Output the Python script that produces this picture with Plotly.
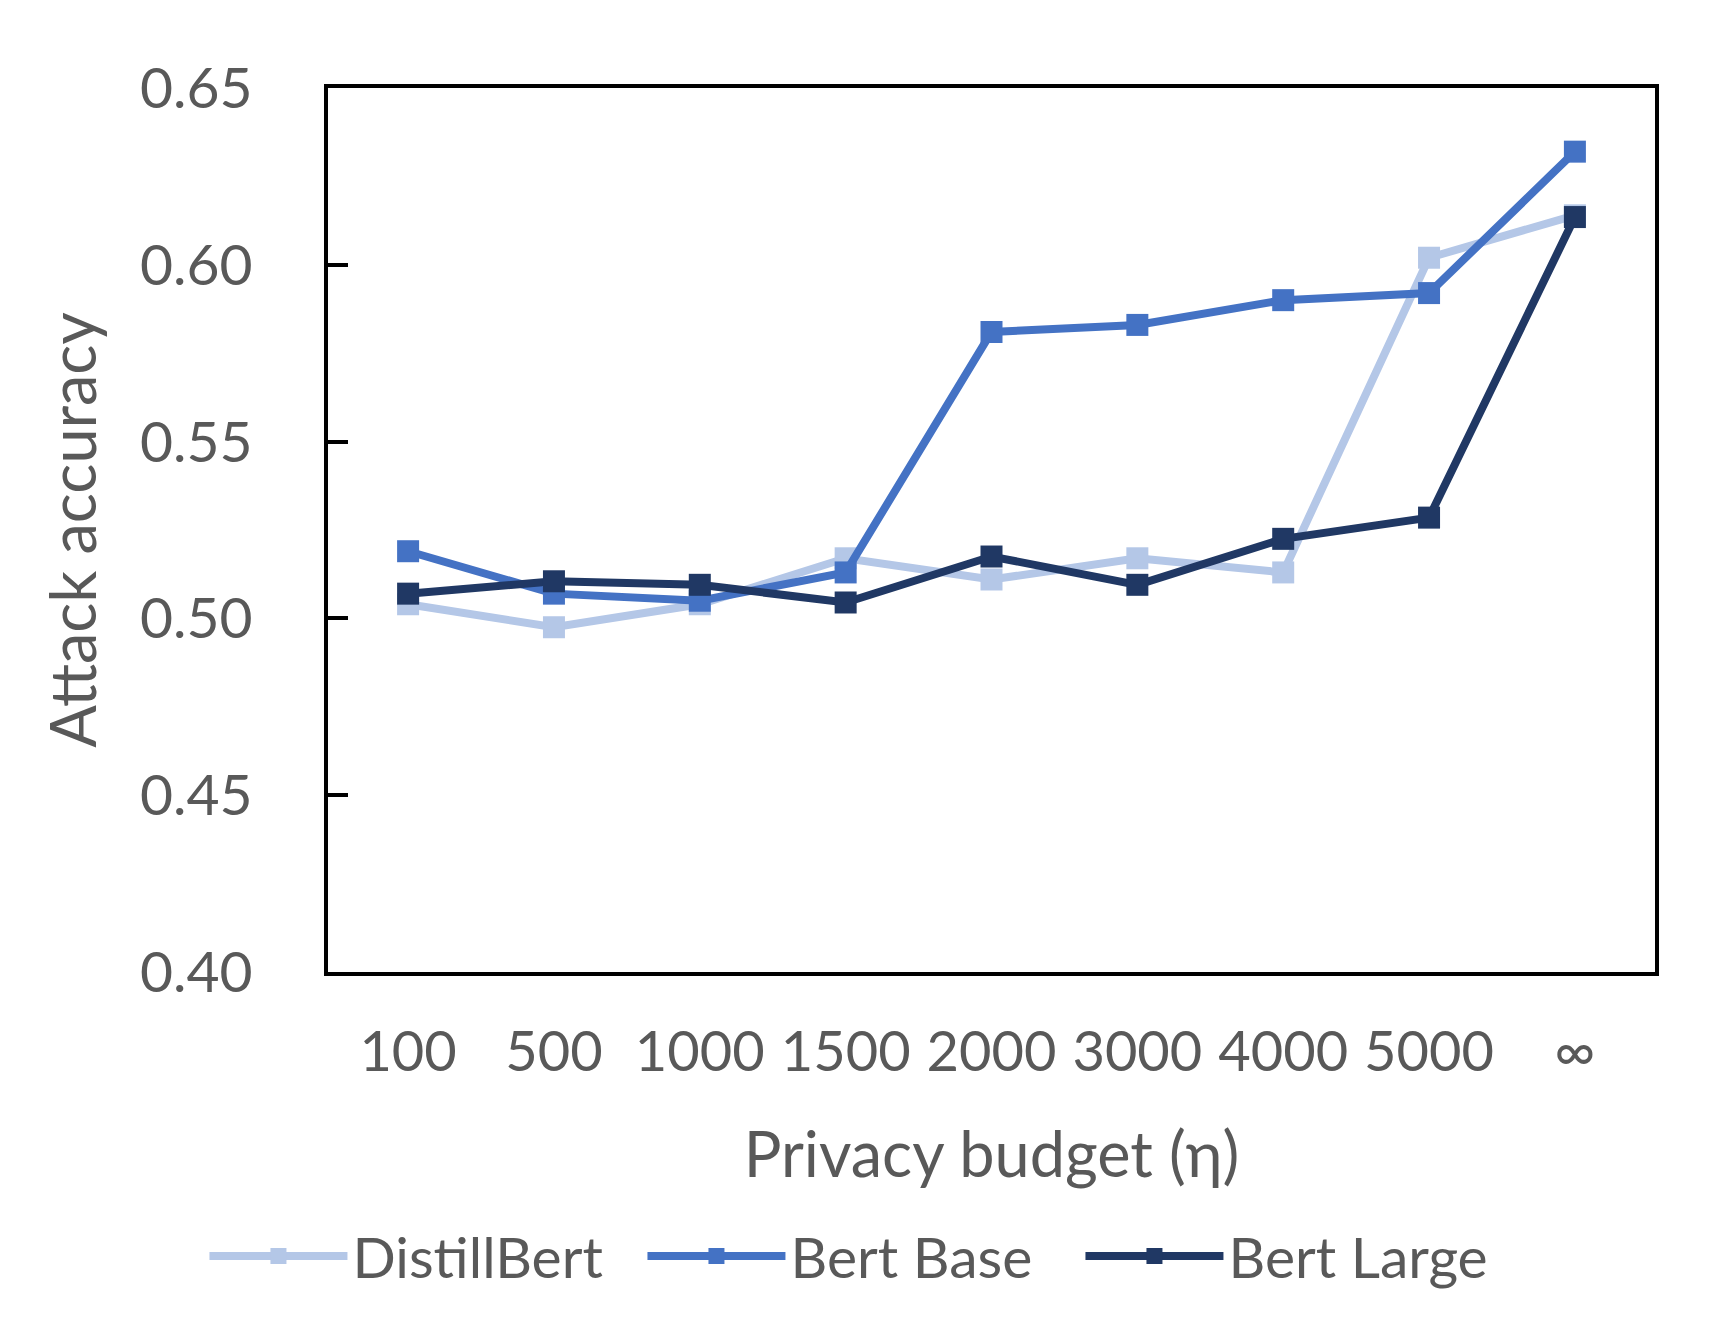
import plotly.graph_objects as go

# privacy budget categories (x axis)
budgets = ["100", "500", "1000", "1500", "2000", "3000", "4000", "5000", "∞"]

# attack accuracy per model
distill_bert = [0.504, 0.4975, 0.504, 0.517, 0.511, 0.517, 0.513, 0.602, 0.614]
bert_base = [0.519, 0.507, 0.505, 0.513, 0.581, 0.583, 0.590, 0.592, 0.632]
bert_large = [0.507, 0.5105, 0.5095, 0.5045, 0.5175, 0.5095, 0.5225, 0.5285, 0.6135]

series = [
    ("DistillBert", distill_bert, "#B4C7E7"),
    ("Bert Base", bert_base, "#4472C4"),
    ("Bert Large", bert_large, "#203864"),
]

FONT = "Lato"
GREY = "#595959"

fig = go.Figure()
for name, vals, col in series:
    fig.add_trace(go.Scatter(
        x=budgets, y=vals, name=name, mode="lines+markers",
        line=dict(color=col, width=8),
        marker=dict(symbol="square", size=22, color=col),
    ))

fig.update_layout(
    width=1721, height=1335,
    margin=dict(l=320, r=74, t=80, b=371),
    paper_bgcolor="white", plot_bgcolor="white",
    font=dict(family=FONT, size=57, color=GREY),
    showlegend=True,
    legend=dict(orientation="h", x=0.402, xanchor="center",
                y=-0.272, yanchor="top",
                font=dict(size=57, color=GREY), itemwidth=138,
                entrywidth=285, entrywidthmode="pixels", traceorder="normal"),
)
fig.update_xaxes(
    type="category", showgrid=False, ticks="",
    showline=True, mirror=True, linecolor="black", linewidth=4,
    ticklabelstandoff=28, tickfont=dict(size=56),
    title=dict(text="Privacy budget (η)", font=dict(size=63, color=GREY), standoff=52),
)
fig.update_yaxes(
    range=[0.40, 0.65], dtick=0.05, tickformat=".2f", showgrid=False, zeroline=False,
    ticks="inside", ticklen=20, tickwidth=4, tickcolor="black",
    showline=True, mirror=True, linecolor="black", linewidth=4,
    ticklabelstandoff=60,
    title=dict(text="Attack accuracy", font=dict(size=63, color=GREY), standoff=24),
)

fig.write_html("out.html")
